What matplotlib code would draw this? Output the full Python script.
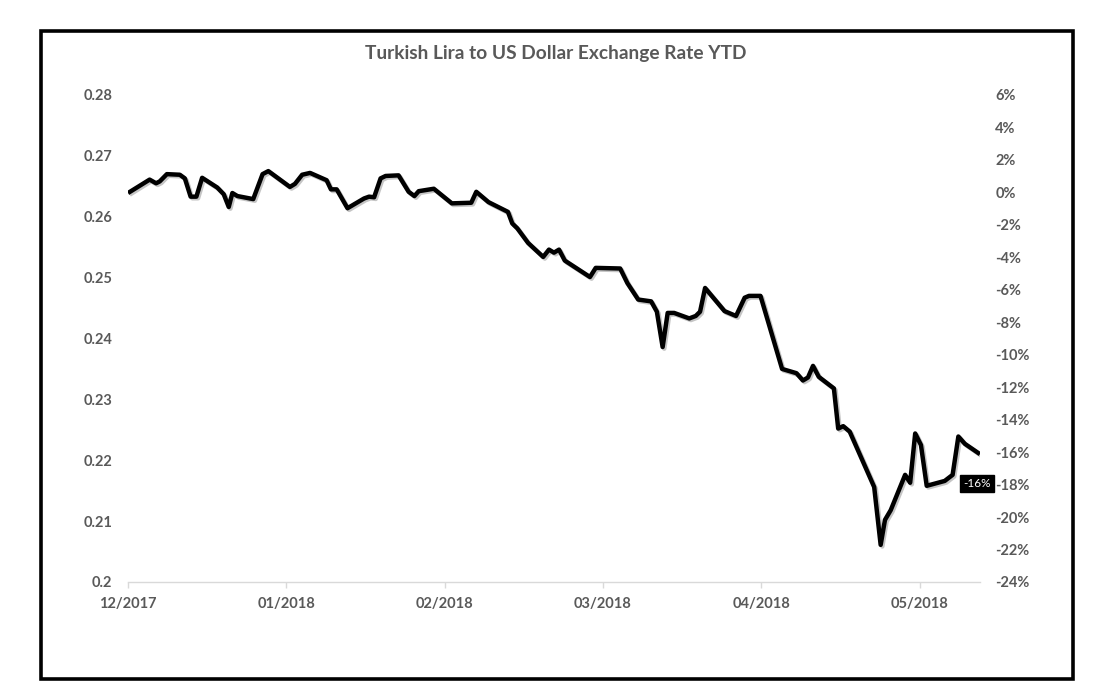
import numpy as np
import matplotlib
matplotlib.use("Agg")
import matplotlib.pyplot as plt
import matplotlib.patheffects as pe
from matplotlib.patches import Rectangle
from matplotlib.ticker import MultipleLocator, PercentFormatter

plt.rcParams['font.family'] = ['Lato', 'DejaVu Sans']
plt.rcParams['axes.unicode_minus'] = False

# trading-day position (0 = start of 12/2017) and TRY/USD rate
day_pos = [0, 3.0, 3.9, 4.4, 5.4, 7.2, 7.9, 8.7, 9.5, 10.3,
           12.4, 13.3, 14.0, 14.5, 15.2, 17.4, 18.7, 19.5, 22.5, 23.2,
           24.2, 25.3, 27.6, 28.2, 29.0, 30.5, 32.8, 33.5, 34.2, 35.1,
           35.8, 37.6, 39.0, 39.8, 40.4, 42.5, 45.0, 47.7, 48.4, 50.1,
           52.8, 53.4, 54.1, 55.6, 57.7, 58.5, 59.2, 59.9, 60.7, 64.2,
           65.0, 68.4, 69.4, 70.9, 72.7, 73.5, 74.3, 75.0, 75.9, 78.0,
           78.9, 79.5, 80.2, 82.9, 84.5, 85.7, 86.3, 87.9, 90.9, 92.9,
           93.8, 94.5, 95.2, 96.0, 98.1, 98.7, 99.4, 100.3, 103.7, 104.6,
           105.2, 106.0, 108.0, 108.7, 109.4, 110.2, 111.0, 113.5, 114.6, 115.4,
           116.3, 118.4]
rate = [0.2639, 0.2661, 0.2655, 0.2658, 0.2670, 0.2669, 0.2663, 0.2633, 0.2633, 0.2664,
        0.2648, 0.2637, 0.2616, 0.2639, 0.2634, 0.2629, 0.2670, 0.2675, 0.2649, 0.2654,
        0.2669, 0.2672, 0.2660, 0.2645, 0.2645, 0.2614, 0.2630, 0.2633, 0.2632, 0.2663,
        0.2667, 0.2668, 0.2641, 0.2634, 0.2642, 0.2646, 0.2622, 0.2623, 0.2641, 0.2624,
        0.2608, 0.2589, 0.2581, 0.2557, 0.2534, 0.2546, 0.2541, 0.2546, 0.2528, 0.2501,
        0.2516, 0.2515, 0.2491, 0.2464, 0.2461, 0.2444, 0.2386, 0.2442, 0.2442, 0.2433,
        0.2437, 0.2444, 0.2483, 0.2445, 0.2437, 0.2467, 0.2470, 0.2470, 0.2350, 0.2343,
        0.2331, 0.2336, 0.2355, 0.2337, 0.2318, 0.2252, 0.2256, 0.2247, 0.2156, 0.2061,
        0.2102, 0.2118, 0.2176, 0.2163, 0.2244, 0.2225, 0.2158, 0.2166, 0.2176, 0.2239,
        0.2227, 0.2210]

month_pos = [0, 22, 44, 66, 88, 110]
month_labels = ['12/2017', '01/2018', '02/2018', '03/2018', '04/2018', '05/2018']

gray = '#595959'
base = rate[0]

fig = plt.figure(figsize=(10.97, 6.98), dpi=100)
fig.patches.append(Rectangle((0.0378, 0.0272), 0.978 - 0.0378, 0.9563 - 0.0272,
                             transform=fig.transFigure, fill=False,
                             edgecolor='black', linewidth=2.6))

ax = fig.add_axes([0.1167, 0.1662, 0.7766, 0.6977])
ax.plot(day_pos, rate, color='black', linewidth=3.2, solid_joinstyle='round',
        solid_capstyle='butt',
        path_effects=[pe.SimpleLineShadow(offset=(1.2, -1.2), shadow_color='#7f7f7f', alpha=0.45),
                      pe.Normal()])

ax.set_xlim(0, day_pos[-1])
ax.set_ylim(0.2, 0.28)
ax.yaxis.set_major_locator(MultipleLocator(0.01))
ax.yaxis.set_major_formatter(lambda v, p: '0.2' if abs(v - 0.2) < 1e-9 else f'{v:.2f}')
ax.set_xticks(month_pos)
ax.set_xticklabels(month_labels)

for s in ['top', 'right', 'left']:
    ax.spines[s].set_visible(False)
ax.spines['bottom'].set_color('#d9d9d9')
ax.spines['bottom'].set_linewidth(1.0)
ax.tick_params(axis='x', colors='#d9d9d9', length=4, width=1, pad=7,
               labelcolor=gray, labelsize=10.5)
ax.tick_params(axis='y', length=0, pad=11.5, labelcolor=gray, labelsize=10.5)
for lab in ax.get_xticklabels() + ax.get_yticklabels():
    lab.set_fontweight('bold')

# secondary axis: change since start, its own fixed range
ax2 = ax.twinx()
ax2.set_ylim(-0.24, 0.06)
ax2.yaxis.set_major_locator(MultipleLocator(0.02))
ax2.yaxis.set_major_formatter(PercentFormatter(1.0, decimals=0))
for s in ax2.spines.values():
    s.set_visible(False)
ax2.tick_params(length=0, pad=11, labelcolor=gray, labelsize=10.5)
for lab in ax2.get_yticklabels():
    lab.set_fontweight('bold')

last_pct = rate[-1] / base - 1
ax.annotate(f'{last_pct:.0%}', xy=(day_pos[-1], rate[-1]), xytext=(-2, -21),
            textcoords='offset points', ha='center', va='center',
            color='white', fontsize=8.5, zorder=5,
            bbox=dict(boxstyle='square,pad=0.25', facecolor='black', edgecolor='black'))

fig.text(556 / 1097, 1 - 53 / 698, 'Turkish Lira to US Dollar Exchange Rate YTD',
         ha='center', va='center', color=gray, fontsize=13.8, fontweight='bold')

fig.savefig('out.png', dpi=100)
